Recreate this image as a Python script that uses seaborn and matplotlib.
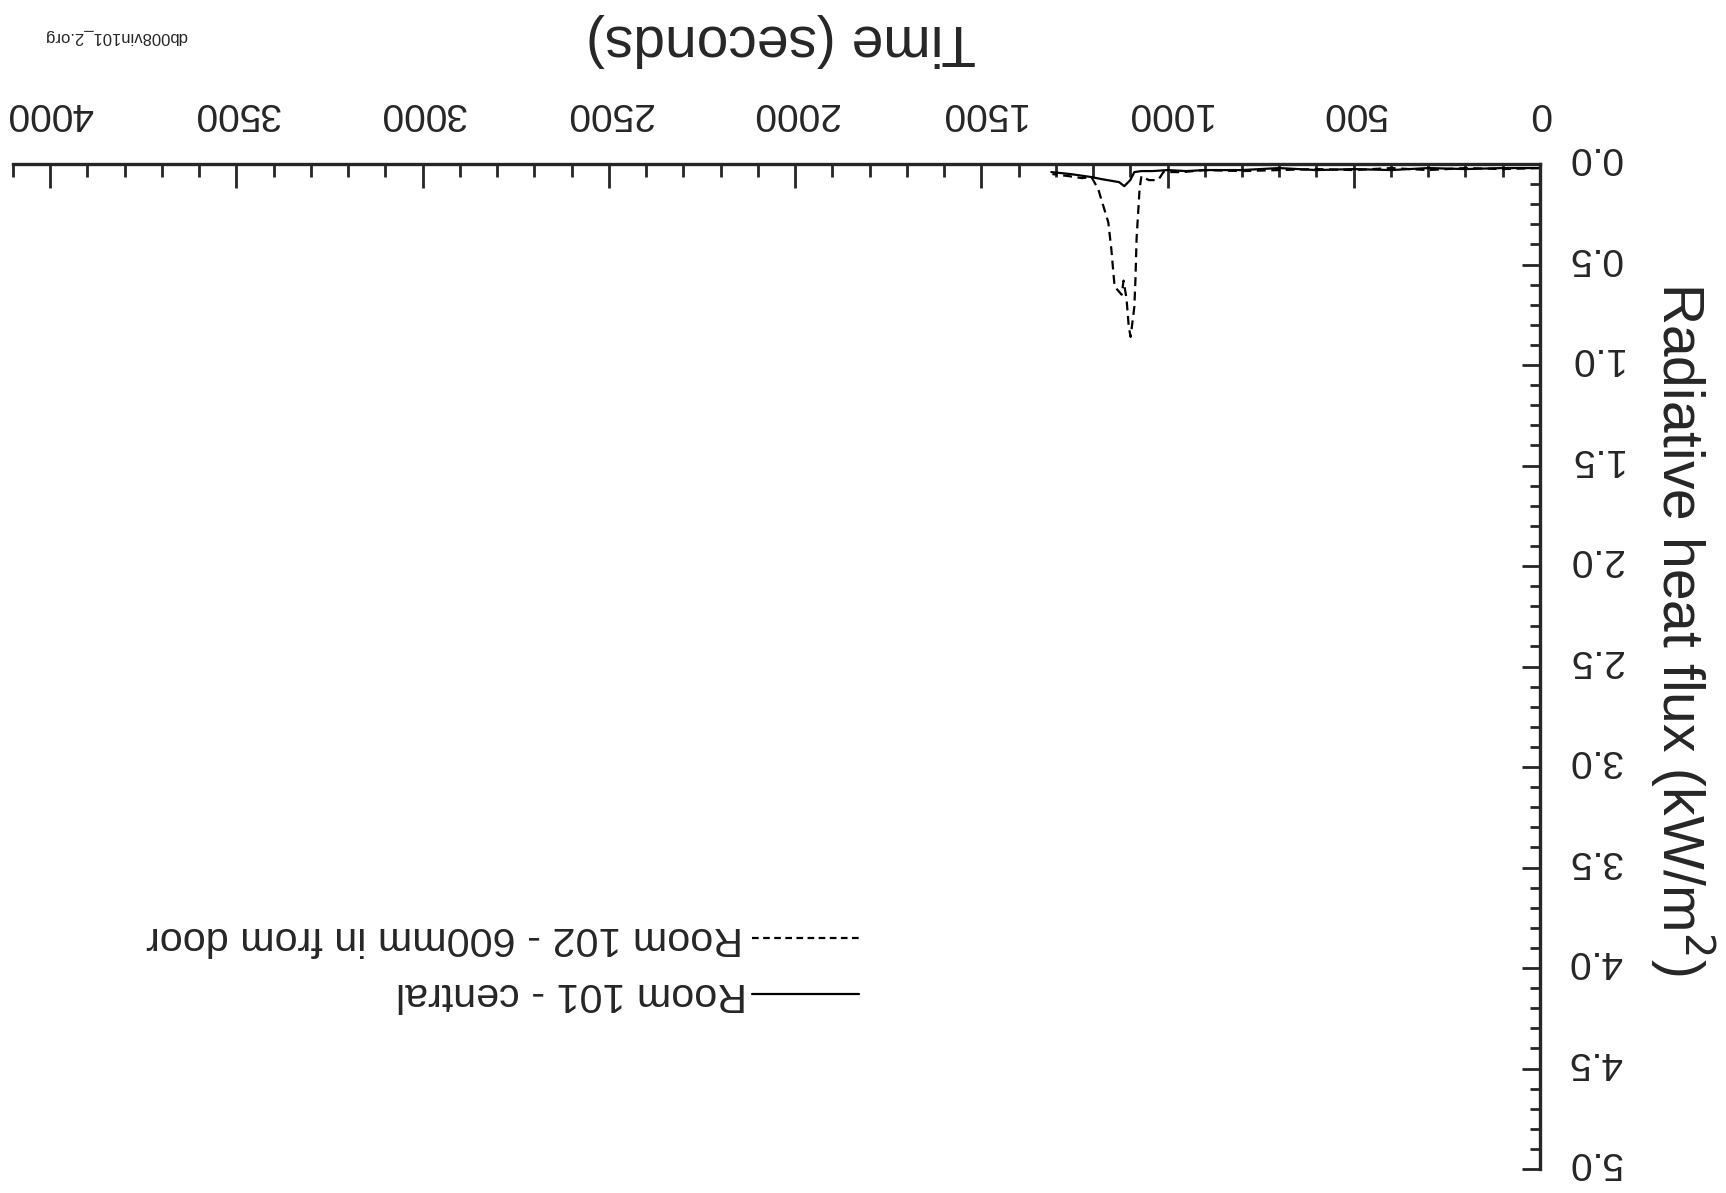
import pandas as pd
import matplotlib.pyplot as plt
import matplotlib.transforms as mtransforms
import seaborn as sns

series_names = ["Room 101 - central", "Room 102 - 600mm in from door"]

room101_time = [0, 100, 200, 300, 400, 500, 600, 700, 800, 900, 950, 1000,
                1040, 1070, 1089, 1100, 1116, 1130, 1177, 1204, 1260, 1312]
room101_flux = [0.02, 0.02, 0.025, 0.02, 0.03, 0.025, 0.03, 0.02, 0.03, 0.03, 0.035, 0.03,
                0.035, 0.035, 0.04, 0.08, 0.11, 0.09, 0.075, 0.065, 0.05, 0.04]

room102_time = [0, 100, 200, 300, 400, 500, 600, 700, 800, 900, 960, 1011,
                1025, 1050, 1070, 1075, 1083, 1086, 1089, 1099, 1104, 1110,
                1118, 1123, 1142, 1151, 1159, 1186, 1204, 1230, 1266, 1309]
room102_flux = [0.02, 0.025, 0.02, 0.03, 0.02, 0.03, 0.025, 0.03, 0.035, 0.03, 0.04, 0.04,
                0.08, 0.08, 0.06, 0.125, 0.37, 0.57, 0.71, 0.86, 0.81, 0.67,
                0.58, 0.65, 0.61, 0.42, 0.29, 0.125, 0.065, 0.07, 0.06, 0.05]

x_ticks = [0, 500, 1000, 1500, 2000, 2500, 3000, 3500, 4000]
y_ticks = [0.0, 0.5, 1.0, 1.5, 2.0, 2.5, 3.0, 3.5, 4.0, 4.5, 5.0]

df = pd.concat([
    pd.DataFrame({"time": room101_time, "flux": room101_flux, "series": series_names[0]}),
    pd.DataFrame({"time": room102_time, "flux": room102_flux, "series": series_names[1]}),
])

sns.set_style("ticks")
plt.rcParams["font.family"] = ["Liberation Sans", "DejaVu Sans"]

fig = plt.figure(figsize=(17.26, 11.93), dpi=100)
ax = fig.add_axes([0.0075, 0.0201, 0.8847, 0.8424])

sns.lineplot(data=df, x="time", y="flux", style="series", estimator=None,
             dashes={series_names[0]: "", series_names[1]: (4, 2.5)},
             color="black", linewidth=1.6, legend=False, ax=ax)

# the scanned page is upside down: flip both axes and turn all text round
ax.set_xlim(4100, 0)
ax.set_ylim(5, 0)
ax.xaxis.tick_top()
ax.yaxis.tick_right()
ax.set_xticks(x_ticks)
ax.set_xticklabels([str(t) for t in x_ticks])
ax.set_xticks(range(0, 4101, 100), minor=True)
ax.set_yticks(y_ticks)
ax.set_yticklabels([f"{v:.1f}" for v in y_ticks])
ax.set_yticks([i / 10 for i in range(51)], minor=True)

ax.tick_params(axis="x", which="major", direction="in", length=17, width=2,
               labelsize=28, pad=24, labelrotation=180)
ax.tick_params(axis="x", which="minor", direction="in", length=9, width=2)
ax.tick_params(axis="y", which="major", direction="in", length=13, width=2,
               labelsize=28, pad=20, labelrotation=180)
ax.tick_params(axis="y", which="minor", direction="in", length=7, width=2)
nudge_up = mtransforms.ScaledTranslation(0, 5 / 72, fig.dpi_scale_trans)
for lab in ax.get_yticklabels():
    lab.set_va("center")
    lab.set_transform(lab.get_transform() + nudge_up)

for side in ["left", "bottom"]:
    ax.spines[side].set_visible(False)
for side in ["top", "right"]:
    ax.spines[side].set_linewidth(2.4)

ax.set_xlabel("Time (seconds)", fontsize=41, rotation=180)
ax.xaxis.set_label_position("top")
ax.xaxis.set_label_coords(0.503, 1.108)
ax.set_ylabel("Radiative heat flux (kW/m$^2$)", fontsize=41, rotation=-90)
ax.yaxis.set_label_position("right")
ax.yaxis.set_label_coords(1.116, 0.537)

# hand-drawn style legend, also upside down
legend_rows = [(series_names[0], "-", 0.174, 0.481), (series_names[1], (0, (3, 2)), 0.230, 0.478)]
for name, ls, ly, tx in legend_rows:
    ax.plot([0.484, 0.554], [ly, ly], transform=ax.transAxes, color="black",
            linestyle=ls, linewidth=1.6)
    ax.text(tx, ly, name, transform=ax.transAxes, fontsize=29.7, rotation=180,
            rotation_mode="anchor", ha="left", va="center")

fig.text(0.067, 0.969, "db008vin101_2.org", fontsize=12, rotation=180,
         ha="center", va="center")

fig.savefig("out.png", dpi=100, facecolor="white")
